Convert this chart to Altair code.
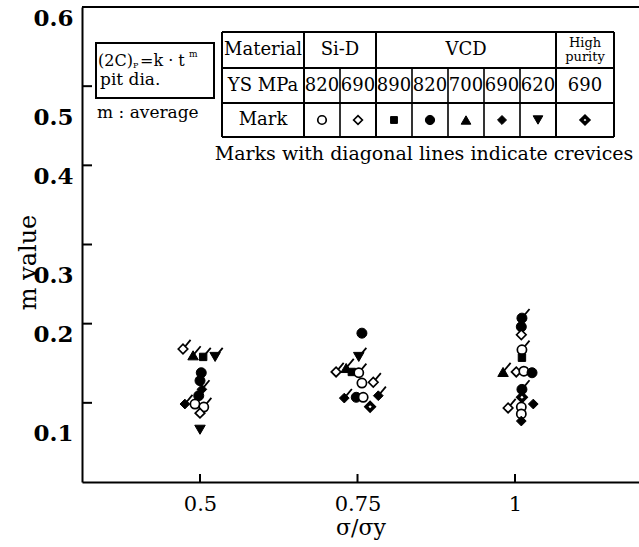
import altair as alt
import pandas as pd

# ---------------- data ----------------
materials = ["Si-D 820", "Si-D 690", "VCD 890", "VCD 820", "VCD 700",
             "VCD 690", "VCD 620", "High purity 690"]
mat_group = ["Si-D", "VCD", "High purity"]
mat_group_span = [2, 5, 1]
ys_mpa = ["820", "690", "890", "820", "700", "690", "620", "690"]
mat_shape = ["circle", "diamond", "square", "circle", "triangle-up",
             "diamond", "triangle-down", "diamond"]
mat_fill = ["white", "white", "black", "black", "black", "black", "black", "white"]
mat_sw = [1.7, 1.7, 1, 1, 1, 1, 1, 3.4]
mat_size = [85, 90, 55, 100, 110, 95, 110, 65]

# stress ratio (with the horizontal spread as drawn), m value, material index, crevice flag
pt_ratio = [0.473, 0.489, 0.505, 0.524, 0.502, 0.500, 0.503, 0.498, 0.476, 0.492, 0.506, 0.500, 0.500,
            0.757, 0.752, 0.716, 0.732, 0.741, 0.752, 0.757, 0.775, 0.729, 0.748, 0.759, 0.783, 0.770,
            1.011, 1.010, 1.010, 1.011, 1.011, 0.981, 1.002, 1.014, 1.027, 1.011, 1.011, 1.029, 1.010,
            0.989, 1.010, 1.010]
pt_m = [0.168, 0.160, 0.158, 0.158, 0.138, 0.128, 0.117, 0.109, 0.0985, 0.0985, 0.0947, 0.087, 0.066,
        0.188, 0.158, 0.139, 0.144, 0.139, 0.138, 0.125, 0.126, 0.106, 0.107, 0.107, 0.109, 0.095,
        0.207, 0.196, 0.186, 0.167, 0.157, 0.139, 0.139, 0.140, 0.138, 0.117, 0.107, 0.0985, 0.0947,
        0.0935, 0.086, 0.077]
pt_mat = [1, 4, 2, 6, 3, 3, 5, 3, 5, 0, 0, 1, 6,
          3, 6, 1, 4, 2, 0, 0, 1, 5, 3, 0, 5, 7,
          3, 3, 1, 0, 2, 4, 1, 0, 3, 3, 7, 5, 0, 1, 0, 5]
pt_crev = [1, 1, 1, 1, 0, 0, 1, 0, 1, 0, 1, 0, 0,
           0, 1, 1, 1, 0, 1, 0, 1, 1, 0, 0, 1, 0,
           1, 0, 0, 1, 0, 1, 0, 0, 0, 1, 0, 0, 0, 1, 0, 0]

x_ticks = [0.5, 0.75, 1]
y_ticks = [0.1, 0.2, 0.3, 0.4, 0.5, 0.6]

# ---------------- layout ----------------
W, H = 557, 475
OX, OY = 82, 7  # plot origin in page pixels
FONT = "DejaVu Serif"

pts = pd.DataFrame({"ratio": pt_ratio, "m": pt_m, "mi": pt_mat, "crev": pt_crev})
pts["shape"] = [mat_shape[i] for i in pts.mi]
pts["fill"] = [mat_fill[i] for i in pts.mi]
pts["sw"] = [mat_sw[i] for i in pts.mi]
pts["sz"] = [mat_size[i] for i in pts.mi]
pts["material"] = [materials[i] for i in pts.mi]

xscale = alt.Scale(domain=[0.3127, 1.1968], nice=False, zero=False)
yscale = alt.Scale(domain=[0, 0.6], nice=False, zero=False)

xaxis = alt.Axis(values=x_ticks, format="~g", ticks=False, tickSize=0, grid=False,
                 domainColor="black", domainWidth=2,
                 labelFont=FONT, labelFontSize=21, labelColor="black",
                 labelPadding=22, labelBaseline="middle",
                 title="σ/σy", titleFont=FONT, titleFontSize=22, titleFontWeight="normal",
                 titleColor="black", titleY=45, titleBaseline="middle")
yaxis = alt.Axis(values=y_ticks, format=".1f", ticks=False, tickSize=0, grid=False,
                 domainColor="black", domainWidth=2,
                 labelFont=FONT, labelFontSize=23, labelFontWeight="bold", labelColor="black",
                 labelPadding=9, labelBaseline="middle",
                 labelOffset=alt.ExprRef(expr="round(datum.value*10) % 2 == 0 ? 11 : 31"),
                 title="m value", titleFont=FONT, titleFontSize=24, titleFontWeight="normal",
                 titleColor="black", titleX=-54, titleY=255, titleAngle=270,
                 titleBaseline="middle", titleAlign="center")

points = alt.Chart(pts).mark_point(filled=True, stroke="black", opacity=1).encode(
    x=alt.X("ratio:Q", scale=xscale, axis=xaxis),
    y=alt.Y("m:Q", scale=yscale, axis=yaxis),
    shape=alt.Shape("shape:N", scale=None),
    fill=alt.Fill("fill:N", scale=None),
    size=alt.Size("sz:Q", scale=None),
    strokeWidth=alt.StrokeWidth("sw:Q", scale=None),
)
slashes = alt.Chart(pts).transform_filter("datum.crev == 1").mark_point(
    shape="M0,0L1,-1.2", size=230, filled=False, color="black", strokeWidth=1.8, opacity=1
).encode(x=alt.X("ratio:Q", scale=xscale), y=alt.Y("m:Q", scale=yscale))

# frame top line and inward ticks
top_line = alt.Chart(pd.DataFrame({"v": [0.6]})).mark_rule(color="black", strokeWidth=2).encode(
    y=alt.Y("v:Q", scale=yscale))
yt = alt.Chart(pd.DataFrame({"v": y_ticks[:-1]})).mark_rule(color="black", strokeWidth=2).encode(
    y=alt.Y("v:Q", scale=yscale), x=alt.value(0), x2=alt.value(10))
xt = alt.Chart(pd.DataFrame({"v": x_ticks})).mark_rule(color="black", strokeWidth=2).encode(
    x=alt.X("v:Q", scale=xscale), y=alt.value(H), y2=alt.value(H - 8))

# ---------------- legend table ----------------
col_edges = [222, 304, 340, 376, 412, 448, 484, 520, 556, 614]
row_edges = [32, 68, 103, 137]
segs = []
for r in row_edges:
    segs.append((col_edges[0], r, col_edges[-1], r, 2))
full_cols = [0, 1]
acc = 1
for s in mat_group_span:
    acc += s
    full_cols.append(acc)
for ci, c in enumerate(col_edges):
    if ci in full_cols:
        segs.append((c, row_edges[0], c, row_edges[-1], 2))
    else:
        segs.append((c, row_edges[1], c, row_edges[-1], 1.6))
seg_df = pd.DataFrame(segs, columns=["x1", "y1", "x2", "y2", "w"])
seg_df[["x1", "x2"]] -= OX
seg_df[["y1", "y2"]] -= OY
grid = alt.Chart(seg_df).mark_rule(color="black").encode(
    x=alt.X("x1:Q", scale=None, axis=None), x2="x2:Q",
    y=alt.Y("y1:Q", scale=None, axis=None), y2="y2:Q",
    strokeWidth=alt.StrokeWidth("w:Q", scale=None))

rc = [(row_edges[i] + row_edges[i + 1]) / 2 for i in range(3)]
cc = [(col_edges[i] + col_edges[i + 1]) / 2 for i in range(len(col_edges) - 1)]
tx = []
tx.append(("Material", cc[0], rc[0], 18))
acc = 1
for g, s in zip(mat_group, mat_group_span):
    cx = (col_edges[acc] + col_edges[acc + s]) / 2
    if g == "High purity":
        tx.append(("High", cx, rc[0] - 7, 13))
        tx.append(("purity", cx, rc[0] + 7, 13))
    else:
        tx.append((g, cx, rc[0], 18))
    acc += s
tx.append(("YS MPa", cc[0], rc[1], 18))
for i, v in enumerate(ys_mpa):
    tx.append((v, cc[i + 1], rc[1], 18))
tx.append(("Mark", cc[0], rc[2], 18))
tx.append(("Marks with diagonal lines indicate crevices", 424, 154, 19))
tx_df = pd.DataFrame(tx, columns=["t", "x", "y", "s"])
tx_df["x"] -= OX
tx_df["y"] -= OY
table_text = alt.Chart(tx_df).mark_text(font=FONT, color="black", align="center",
                                        baseline="middle").encode(
    x=alt.X("x:Q", scale=None, axis=None), y=alt.Y("y:Q", scale=None, axis=None),
    text="t:N", size=alt.Size("s:Q", scale=None))

mk_df = pd.DataFrame({"x": [c - OX for c in cc[1:]], "y": [rc[2] - OY] * 8,
                      "shape": mat_shape, "fill": mat_fill, "sw": mat_sw,
                      "sz": [s * 0.85 for s in mat_size]})
table_marks = alt.Chart(mk_df).mark_point(filled=True, stroke="black", opacity=1).encode(
    x=alt.X("x:Q", scale=None, axis=None), y=alt.Y("y:Q", scale=None, axis=None),
    shape=alt.Shape("shape:N", scale=None), fill=alt.Fill("fill:N", scale=None),
    size=alt.Size("sz:Q", scale=None), strokeWidth=alt.StrokeWidth("sw:Q", scale=None))

# ---------------- formula inset ----------------
box = alt.Chart(pd.DataFrame({"x1": [96 - OX], "x2": [214 - OX], "y1": [43 - OY], "y2": [98 - OY]})
                ).mark_rect(fill="white", stroke="black", strokeWidth=2).encode(
    x=alt.X("x1:Q", scale=None, axis=None), x2="x2:Q",
    y=alt.Y("y1:Q", scale=None, axis=None), y2="y2:Q")
ftx = pd.DataFrame([
    ("(2C)", 98, 61, 16), ("P", 133, 66, 8), ("=k · t", 140, 61, 16), ("m", 189, 54, 9),
    ("pit  dia.", 100, 80, 17), ("m : average", 97, 113, 17)],
    columns=["t", "x", "y", "s"])
ftx["x"] -= OX
ftx["y"] -= OY
formula = alt.Chart(ftx).mark_text(font=FONT, color="black", align="left",
                                   baseline="middle").encode(
    x=alt.X("x:Q", scale=None, axis=None), y=alt.Y("y:Q", scale=None, axis=None),
    text="t:N", size=alt.Size("s:Q", scale=None))

chart = alt.layer(top_line, yt, xt, slashes, points, grid, table_text, table_marks, box, formula
                  ).properties(
    width=W, height=H,
    padding={"left": OX, "top": OY, "right": 0, "bottom": 547 - OY - H},
    autosize=alt.AutoSizeParams(type="none"),
    background="white",
).configure_view(stroke=None)

chart.save("out.html", embed_options={"renderer": "svg", "actions": False})
